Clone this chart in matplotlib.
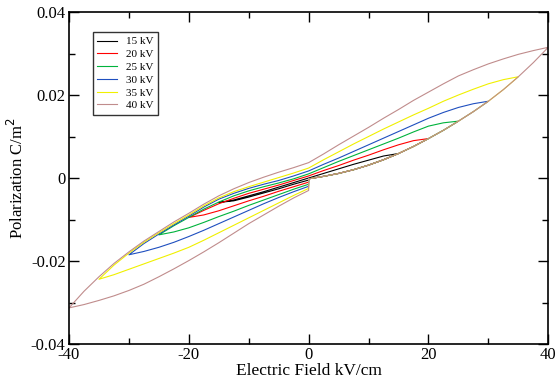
import numpy as np
import matplotlib
matplotlib.use("Agg")
import matplotlib.pyplot as plt

plt.rcParams['font.family'] = ['Liberation Serif', 'DejaVu Serif']
plt.rcParams['axes.unicode_minus'] = False

# ---- data (field step 2.5 kV/cm) ----
labels = ["15 kV", "20 kV", "25 kV", "30 kV", "35 kV", "40 kV"]
colors = ["#000000", "#ff0000", "#00b33c", "#1f4fbf", "#f0f000", "#c08c8c"]
emax = [15, 20, 25, 30, 35, 40]
step = 2.5

# common initial (virgin) branch, E = 0 .. 40
virgin_P = [-0.0002, 0.0004, 0.0011, 0.0020, 0.0031, 0.0044, 0.0059, 0.0076, 0.0095,
            0.0115, 0.0137, 0.0160, 0.0185, 0.0213, 0.0244, 0.0278, 0.0315]

# descending branches, E = +Emax .. -Emax
desc_15 = [0.0059, 0.0053, 0.0043, 0.0033, 0.0022, 0.0011, 0.0000,
           -0.0011, -0.0022, -0.0033, -0.0043, -0.0053, -0.0059]
desc_20 = [0.0095, 0.0090, 0.0080, 0.0068, 0.0055, 0.0043, 0.0030, 0.0018, 0.0005,
           -0.0006, -0.0017, -0.0027, -0.0037, -0.0049, -0.0062, -0.0078, -0.0095]
desc_25 = [0.0137, 0.0133, 0.0125, 0.0111, 0.0096, 0.0082, 0.0068, 0.0054, 0.0040, 0.0025,
           0.0010, -0.0002, -0.0012, -0.0021, -0.0031, -0.0043, -0.0058, -0.0075, -0.0095,
           -0.0115, -0.0137]
desc_30 = [0.0185, 0.0179, 0.0170, 0.0158, 0.0144, 0.0128, 0.0112, 0.0096, 0.0080, 0.0064,
           0.0048, 0.0033, 0.0017, 0.0005, -0.0006, -0.0015, -0.0025, -0.0037, -0.0051,
           -0.0070, -0.0092, -0.0113, -0.0135, -0.0158, -0.0185]
desc_35 = [0.0244, 0.0237, 0.0227, 0.0214, 0.0200, 0.0185, 0.0168, 0.0152, 0.0135, 0.0118,
           0.0100, 0.0082, 0.0063, 0.0044, 0.0024, 0.0012, 0.0001, -0.0010, -0.0021,
           -0.0033, -0.0048, -0.0067, -0.0089, -0.0110, -0.0132, -0.0155, -0.0181,
           -0.0210, -0.0244]
desc_40 = [0.0315, 0.0307, 0.0298, 0.0287, 0.0275, 0.0261, 0.0246, 0.0227, 0.0207, 0.0187,
           0.0165, 0.0144, 0.0122, 0.0101, 0.0080, 0.0058, 0.0037, 0.0025, 0.0014, 0.0002,
           -0.0011, -0.0026, -0.0043, -0.0063, -0.0085, -0.0106, -0.0129, -0.0152,
           -0.0178, -0.0206, -0.0238, -0.0273, -0.0313]

# ascending branches back to zero, E = -Emax .. 0
asc_15 = [-0.0059, -0.0055, -0.0046, -0.0036, -0.0026, -0.0015, -0.0005]
asc_20 = [-0.0095, -0.0089, -0.0079, -0.0067, -0.0055, -0.0044, -0.0032, -0.0021, -0.0010]
asc_25 = [-0.0137, -0.0130, -0.0120, -0.0107, -0.0093, -0.0080, -0.0066, -0.0053, -0.0040,
          -0.0027, -0.0015]
asc_30 = [-0.0185, -0.0177, -0.0167, -0.0155, -0.0141, -0.0126, -0.0110, -0.0094, -0.0078,
          -0.0062, -0.0047, -0.0033, -0.0020]
asc_35 = [-0.0244, -0.0233, -0.0220, -0.0207, -0.0194, -0.0181, -0.0167, -0.0150, -0.0132,
          -0.0114, -0.0096, -0.0078, -0.0060, -0.0042, -0.0025]
asc_40 = [-0.0313, -0.0305, -0.0295, -0.0284, -0.0271, -0.0256, -0.0238, -0.0219, -0.0199,
          -0.0178, -0.0156, -0.0133, -0.0110, -0.0089, -0.0068, -0.0048, -0.0030]

descs = [desc_15, desc_20, desc_25, desc_30, desc_35, desc_40]
ascs = [asc_15, asc_20, asc_25, asc_30, asc_35, asc_40]

fig = plt.figure(figsize=(5.57, 3.88), dpi=100)
ax = fig.add_axes([69/557, 1-344/388, (548.3-69)/557, (344-12)/388])

vP_all = np.array(virgin_P)
vE_all = np.arange(len(vP_all)) * step
for lab, col, em, d, a in zip(labels, colors, emax, descs, ascs):
    n = int(round(em / step))
    vE, vP = vE_all[:n + 1], vP_all[:n + 1]
    dE = em - np.arange(len(d)) * step
    aE = -em + np.arange(len(a)) * step
    E = np.concatenate([vE, dE[1:], aE[1:], vE[:1]])
    P = np.concatenate([vP, np.array(d)[1:], np.array(a)[1:], vP[:1]])
    ax.plot(E, P, color=col, lw=0.8, label=lab)

ax.set_xlim(-40, 40)
ax.set_ylim(-0.04, 0.04)
ax.set_xticks([-40, -20, 0, 20, 40])
ax.set_xticklabels(["-40", "-20", "0", "20", "40"])
ax.set_xticks([-30, -10, 10, 30], minor=True)
ax.set_yticks([-0.04, -0.02, 0, 0.02, 0.04])
ax.set_yticklabels(["-0.04", "-0.02", "0", "0.02", "0.04"])
ax.set_yticks([-0.03, -0.01, 0.01, 0.03], minor=True)
ax.tick_params(which='both', direction='in', top=True, right=True, labelsize=12, width=1.0)
ax.tick_params(which='major', length=7, pad=2.5)
ax.tick_params(which='minor', length=4)
for s in ax.spines.values():
    s.set_linewidth(1.2)

ax.set_xlabel("Electric Field kV/cm", fontsize=12.5, labelpad=0)
ax.set_ylabel("Polarization C/m$^2$", fontsize=12, labelpad=3)

leg = ax.legend(loc='upper left', bbox_to_anchor=(0.0494, 0.939), borderaxespad=0,
                fontsize=8, frameon=True, fancybox=False, handlelength=1.8,
                handletextpad=0.8, labelspacing=0.27, borderpad=0.4)
leg.get_frame().set_edgecolor('black')
leg.get_frame().set_linewidth(1.0)

fig.savefig("out.png", dpi=100)
